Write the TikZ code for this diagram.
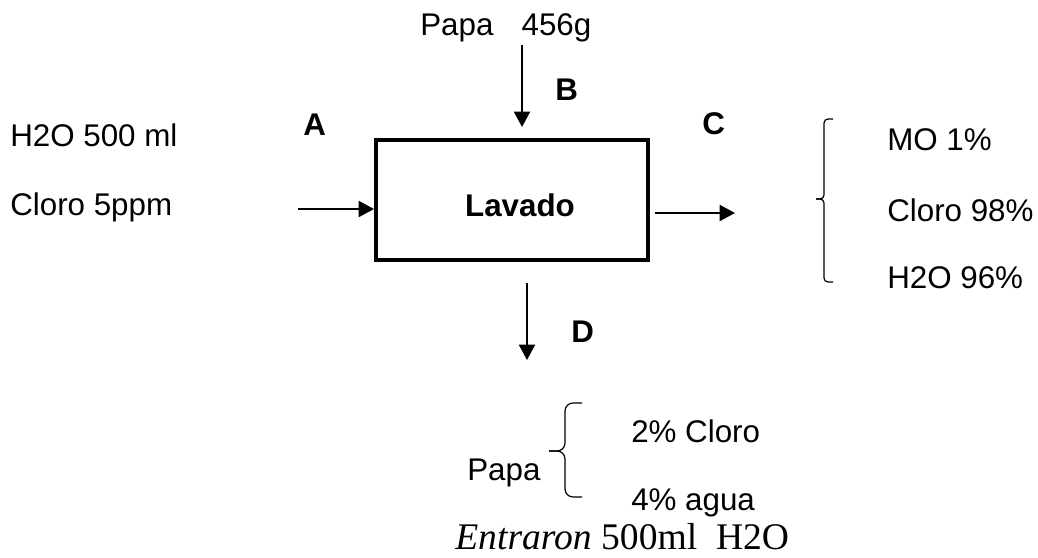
\documentclass[tikz,border=0pt]{standalone}
\usepackage{fontspec}
\setmainfont{Liberation Serif}
\newfontfamily\arialfont{Liberation Sans}
\usetikzlibrary{arrows.meta}
\tikzset{
  flow/.style={-{Triangle[length=11.5pt,width=12pt]},line width=1.5pt},
  txt/.style={anchor=base west,inner sep=0pt,font=\arialfont\fontsize{23.5}{28}\selectfont},
  tag/.style={anchor=base west,inner sep=0pt,font=\arialfont\bfseries\fontsize{23.5}{28}\selectfont},
  brace/.style={line width=0.9pt},
}
\begin{document}
\begin{tikzpicture}[x=0.75pt,y=-0.75pt]
\useasboundingbox (0,0) rectangle (1038,557);
\node[draw,line width=3pt,minimum width=204pt,minimum height=90pt,inner sep=0pt] (lav) at (512,200) {};
\node[tag,anchor=base] (lavtxt) at (520,216) {Lavado};
\node[txt] (h2o) at (10,146) {H2O 500 ml};
\node[txt] (cloro) at (10,215) {Cloro 5ppm};
\node[txt] (papa) at (420,35) {Papa\hspace{0.9em}456g};
\node[tag] (la) at (303,135) {A};
\node[tag] (lb) at (555,100) {B};
\node[tag] (lc) at (702,134) {C};
\node[tag] (ld) at (571,342) {D};
\node[txt] (mo) at (887,150) {MO 1\%};
\node[txt] (clr) at (887,221) {Cloro 98\%};
\node[txt] (agu) at (887,288) {H2O 96\%};
\node[txt] (papd) at (467,480) {Papa};
\node[txt] (c2) at (631,442) {2\% Cloro};
\node[txt] (a4) at (631,510) {4\% agua};
\node[anchor=base west,inner sep=0pt,font=\fontsize{28.2}{34}\selectfont] (entr) at (455,549) {\textit{Entraron} 500ml\hspace{0.5em}H2O};
\coordinate (ain) at (298,209);
\coordinate (bin) at (522,45);
\coordinate (bend) at (522,127);
\coordinate (cout) at (655,213);
\coordinate (cend) at (735,213);
\coordinate (dout) at (527,283);
\coordinate (dend) at (527,360);
\draw[flow] (ain) -- (ain -| lav.west);
\draw[flow] (bin) -- (bend);
\draw[flow] (cout) -- (cend);
\draw[flow] (dout) -- (dend);
\draw[brace,rounded corners=3pt] (833,119) -- (824,119) -- (824,199) -- (816,199);
\draw[brace,rounded corners=3pt] (816,199) -- (824,199) -- (824,282) -- (833,282);
\draw[brace,rounded corners=6pt] (582,403) -- (565,403) -- (565,451) -- (549,451);
\draw[brace,rounded corners=6pt] (549,451) -- (565,451) -- (565,497) -- (582,497);
\end{tikzpicture}
\end{document}
